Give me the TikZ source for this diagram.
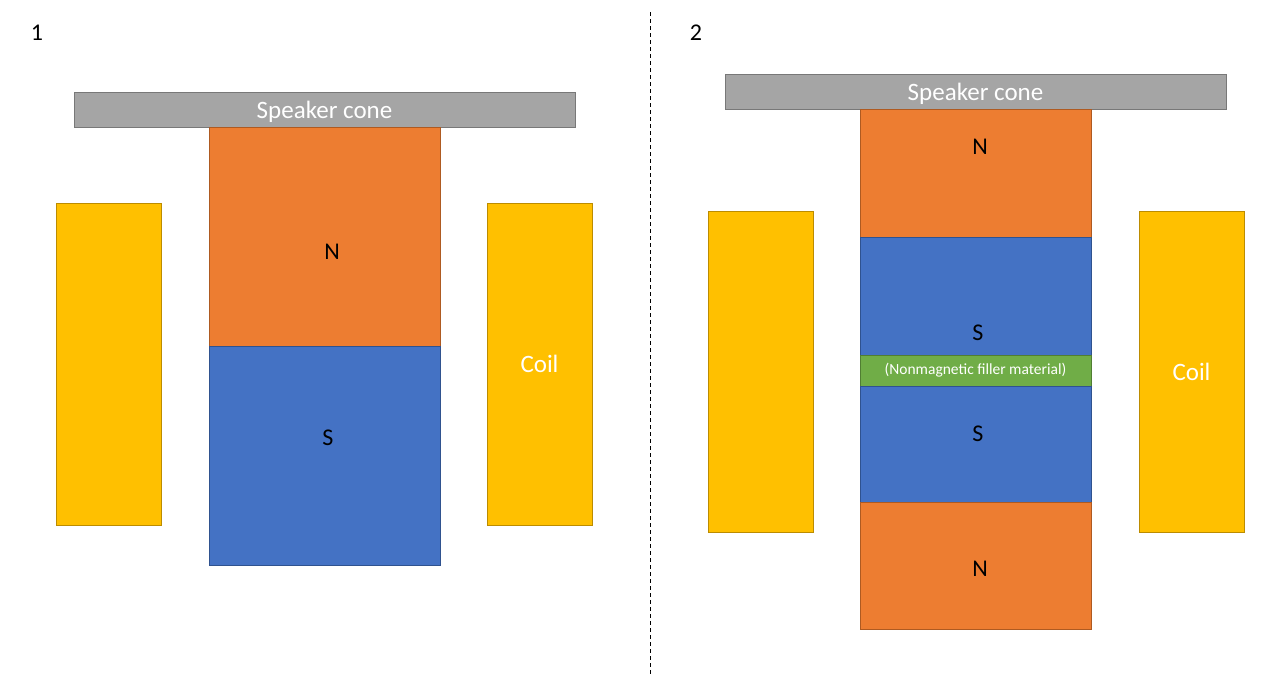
\documentclass[tikz,border=0pt]{standalone}
\usepackage{fontspec}
\setmainfont{Carlito}
\usepackage{tikz}
\usetikzlibrary{positioning}
\definecolor{conegray}{HTML}{A5A5A5}
\definecolor{coneline}{HTML}{787878}
\definecolor{north}{HTML}{ED7D31}
\definecolor{northline}{HTML}{AE5A21}
\definecolor{south}{HTML}{4472C4}
\definecolor{southline}{HTML}{2F528F}
\definecolor{coilgold}{HTML}{FFC000}
\definecolor{coilline}{HTML}{BC8C00}
\definecolor{filler}{HTML}{70AD47}
\definecolor{fillerline}{HTML}{507E32}
\tikzset{
  block/.style={anchor=north west,inner sep=0pt,outer sep=0pt,line width=0.9pt},
  cone/.style={block,fill=conegray,draw=coneline,text=white,text depth=0pt,font=\fontsize{25}{28}\selectfont},
  northpole/.style={block,fill=north,draw=northline},
  southpole/.style={block,fill=south,draw=southline},
  coil/.style={block,fill=coilgold,draw=coilline,text=white,font=\fontsize{25}{28}\selectfont},
  filler/.style={block,fill=filler,draw=fillerline,text=white,font=\fontsize{15.5}{18}\selectfont},
  pole/.style={font=\fontsize{24}{27}\selectfont,inner sep=0pt},
  panel/.style={font=\fontsize{24}{27}\selectfont,inner sep=0pt}
}
\begin{document}
\begin{tikzpicture}[x=1pt,y=-1pt]
  \useasboundingbox (0,0) rectangle (1286,675);

  % panel 1
  \node[panel] (one) at (37,33) {1};
  \node[cone,minimum width=501pt,minimum height=35pt] (coneA) at (74,92) {Speaker cone};
  \node[northpole,minimum width=231pt,minimum height=219pt] (nA) at (209,127) {};
  \node[southpole,minimum width=231pt,minimum height=219pt] (sA) at (209,346) {};
  \node[pole] (nAlab) at (332,251.5) {N};
  \node[pole] (sAlab) at (328,437.5) {S};
  \node[coil,minimum width=105pt,minimum height=322pt] (coilAl) at (56,203) {};
  \node[coil,minimum width=105pt,minimum height=322pt] (coilAr) at (487,203) {Coil};

  % divider
  \draw[dash pattern=on 4pt off 3pt,line width=0.8pt] (650,12) -- (650,675);

  % panel 2
  \node[panel] (two) at (696,33) {2};
  \node[cone,minimum width=501pt,minimum height=35pt] (coneB) at (725,74) {Speaker cone};
  \node[northpole,minimum width=231pt,minimum height=128pt] (nB1) at (860,109) {};
  \node[southpole,minimum width=231pt,minimum height=118pt] (sB1) at (860,237) {};
  \node[filler,minimum width=231pt,minimum height=31pt] (gap) at (860,355) {(Nonmagnetic filler material)};
  \node[southpole,minimum width=231pt,minimum height=116pt] (sB2) at (860,386) {};
  \node[northpole,minimum width=231pt,minimum height=127pt] (nB2) at (860,502) {};
  \node[pole] (nB1lab) at (980,147) {N};
  \node[pole] (sB1lab) at (978,332.5) {S};
  \node[pole] (sB2lab) at (978,433.5) {S};
  \node[pole] (nB2lab) at (980,569) {N};
  \node[coil,minimum width=105pt,minimum height=321pt] (coilBl) at (708,211) {};
  \node[coil,minimum width=105pt,minimum height=321pt] (coilBr) at (1139,211) {Coil};
\end{tikzpicture}
\end{document}
